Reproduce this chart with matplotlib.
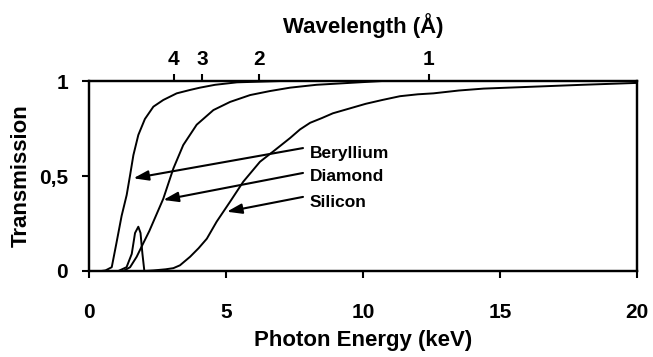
import matplotlib
matplotlib.use("Agg")
import matplotlib.pyplot as plt

plt.rcParams["font.family"] = ["Liberation Sans", "DejaVu Sans"]
plt.rcParams["font.weight"] = "bold"

# Transmission curves (photon energy in keV, transmission fraction)
be_energy = [0.0, 0.45, 0.6, 0.83, 1.0, 1.19, 1.375, 1.5, 1.62, 1.8, 2.04, 2.35, 2.71,
             3.2, 3.69, 4.05, 4.6, 5.4, 7.0, 20.0]
be_trans = [0.0, 0.0, 0.003, 0.02, 0.146, 0.29, 0.40, 0.505, 0.61, 0.716, 0.80, 0.865,
            0.90, 0.935, 0.953, 0.965, 0.98, 0.993, 1.0, 1.0]

dia_energy = [1.0, 1.25, 1.5, 1.74, 1.98, 2.2, 2.35, 2.71, 3.08, 3.44, 3.93, 4.54,
              5.15, 5.88, 6.6, 7.34, 8.3, 9.5, 10.7, 20.0]
dia_trans = [0.0, 0.0, 0.02, 0.075, 0.146, 0.21, 0.26, 0.38, 0.54, 0.663, 0.77, 0.847,
             0.89, 0.926, 0.947, 0.965, 0.98, 0.99, 1.0, 1.0]

si_energy = [1.0, 1.07, 1.37, 1.56, 1.68, 1.8, 1.88, 1.95, 2.02, 2.35, 2.8, 3.08, 3.32,
             3.69, 4.0, 4.3, 4.66, 5.15, 5.63, 6.24, 6.73, 7.34, 7.7, 8.07,
             8.5, 8.9, 9.5, 10.1, 10.7, 11.35, 12.0, 12.57, 13.5, 14.4, 15.3, 16.2,
             17.1, 18.0, 19.0, 20.0]
si_trans = [0.0, 0.0, 0.02, 0.09, 0.2, 0.233, 0.2, 0.09, 0.0, 0.003, 0.009, 0.015,
            0.03, 0.075, 0.12, 0.17, 0.26, 0.365, 0.47, 0.575, 0.63, 0.70,
            0.745, 0.78, 0.805, 0.83, 0.855, 0.88, 0.90, 0.92, 0.93, 0.935, 0.95, 0.96,
            0.965, 0.97, 0.975, 0.98, 0.985, 0.99]

wavelengths = [4, 3, 2, 1]  # Angstrom
HC = 12.398  # keV * Angstrom

# label position and arrow head for each material
labels = ["Beryllium", "Diamond", "Silicon"]
label_y = [0.62, 0.495, 0.358]
arrow_tail = [(7.81, 0.647), (7.81, 0.516), (7.81, 0.39)]
arrow_head = [(1.62, 0.488), (2.71, 0.374), (5.03, 0.312)]

fig = plt.figure(figsize=(6.53, 3.57), dpi=100)
ax = fig.add_axes([0.1363, 0.2409, 0.8392, 0.5322])

for e, t in [(be_energy, be_trans), (dia_energy, dia_trans), (si_energy, si_trans)]:
    ax.plot(e, t, color="black", linewidth=1.4, solid_joinstyle="round")

for name, ly, tail, head in zip(labels, label_y, arrow_tail, arrow_head):
    ax.annotate("", xy=head, xytext=tail,
                arrowprops=dict(arrowstyle="-|>,head_length=0.9,head_width=0.3",
                                color="black", lw=1.5, shrinkA=0, shrinkB=0))
    ax.text(8.05, ly, name, fontsize=12.5, fontweight="bold", va="center", ha="left")

ax.set_xlim(0, 20)
ax.set_ylim(0, 1)
ax.set_xticks([0, 5, 10, 15, 20])
ax.set_yticks([0, 0.5, 1])
ax.set_yticklabels(["0", "0,5", "1"])
ax.tick_params(labelsize=15, width=1.5, length=5, direction="out", pad=18)
ax.tick_params(axis="y", pad=10)
for s in ax.spines.values():
    s.set_linewidth(1.6)
ax.set_xlabel("Photon Energy (keV)", fontsize=16, fontweight="bold", labelpad=6)
ax.set_ylabel("Transmission", fontsize=16, fontweight="bold", labelpad=5)

top = ax.twiny()
top.set_xlim(ax.get_xlim())
top.set_xticks([HC / w for w in wavelengths])
top.set_xticklabels([str(w) for w in wavelengths])
top.tick_params(labelsize=15, width=1.5, length=5, direction="out", pad=4)
top.set_xlabel("Wavelength (Å)", fontsize=16, fontweight="bold", labelpad=12)
for s in top.spines.values():
    s.set_linewidth(1.6)

fig.savefig("out.png", dpi=100)
